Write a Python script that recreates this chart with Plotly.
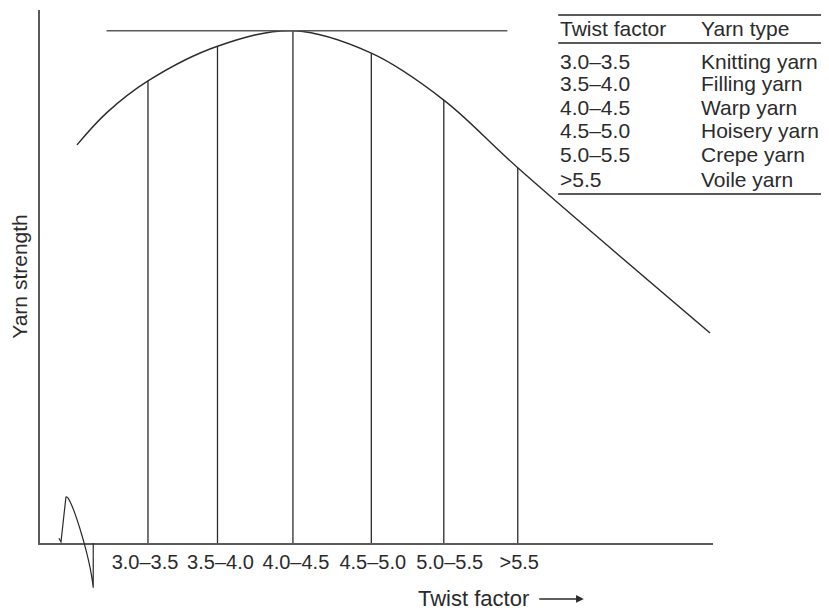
import plotly.graph_objects as go

# twist ranges marked on the x axis, with yarn strength read at each one
twist_ranges = ["3.0–3.5", "3.5–4.0", "4.0–4.5", "4.5–5.0", "5.0–5.5", ">5.5"]
range_pos = [3.25, 3.72, 4.23, 4.76, 5.25, 5.75]
label_pos = [3.23, 3.74, 4.25, 4.77, 5.29, 5.76]
range_strength = [86.7, 93.2, 96.1, 91.9, 83.1, 70.4]

# strength vs twist factor curve
curve_x = [2.77, 2.97, 3.25, 3.72, 4.23, 4.76, 5.25, 5.75, 7.05]
curve_y = [74.7, 80.7, 86.7, 93.2, 96.1, 91.9, 83.1, 70.4, 39.4]

# horizontal line at maximum strength
peak_x = [2.97, 5.68]

# axis break symbol near origin (hook, peak, two bezier controls, trough, back to axis)
break_x = [2.648, 2.662, 2.695, 2.722, 2.857, 2.880, 2.880]
break_y = [0.9, 0.2, 8.6, 9.6, -2.3, -8.4, 0.0]

# table of yarn types
yarn_types = ["Knitting yarn", "Filling yarn", "Warp yarn",
              "Hoisery yarn", "Crepe yarn", "Voile yarn"]

X_RANGE = [2.52, 7.07]
Y_RANGE = [0, 100]
FONT = "Liberation Sans, Arial, sans-serif"
INK = "#2b2b2b"
GREY = "#5a5a5a"


def to_paper(x, y):
    px = (x - X_RANGE[0]) / (X_RANGE[1] - X_RANGE[0])
    py = (y - Y_RANGE[0]) / (Y_RANGE[1] - Y_RANGE[0])
    return f"{px:.4f},{py:.4f}"


fig = go.Figure()

fig.add_trace(go.Scatter(
    x=curve_x, y=curve_y, mode="lines",
    line=dict(color=INK, width=1.4, shape="spline", smoothing=1.0),
    hoverinfo="skip",
))

# vertical drop lines from curve to axis
vx, vy = [], []
for p, s in zip(range_pos, range_strength):
    vx += [p, p, None]
    vy += [0, s, None]
fig.add_trace(go.Scatter(
    x=vx, y=vy, mode="lines",
    line=dict(color=INK, width=1.3), hoverinfo="skip",
))

fig.add_trace(go.Scatter(
    x=peak_x, y=[max(range_strength)] * 2, mode="lines",
    line=dict(color=GREY, width=1.6), hoverinfo="skip",
))

# break symbol drawn as a paper path so it can hang below the axis
pts = [to_paper(x, y) for x, y in zip(break_x, break_y)]
path = (f"M {pts[0]} L {pts[1]} L {pts[2]} "
        f"C {pts[3]} {pts[4]} {pts[5]} L {pts[6]}")
fig.add_shape(type="path", xref="paper", yref="paper", path=path,
              line=dict(color=INK, width=1.2))

# table: lines + text (paper coords)
tx0, tx1 = 0.770, 1.175
for yy in [0.9906, 0.938, 0.6548]:
    fig.add_shape(type="line", xref="paper", yref="paper",
                  x0=tx0, x1=tx1, y0=yy, y1=yy,
                  line=dict(color=GREY, width=2))

col1, col2 = 0.770, 0.979
fig.add_annotation(x=col1, y=0.9644, xref="paper", yref="paper",
                   text="Twist factor", showarrow=False,
                   xanchor="left", yanchor="middle")
fig.add_annotation(x=col2, y=0.9644, xref="paper", yref="paper",
                   text="Yarn type", showarrow=False,
                   xanchor="left", yanchor="middle")
row_y = [0.9043, 0.8612, 0.8180, 0.7730, 0.7280, 0.6829]
for ry, tf, yt in zip(row_y, twist_ranges, yarn_types):
    fig.add_annotation(x=col1, y=ry, xref="paper", yref="paper",
                       text=tf, showarrow=False,
                       xanchor="left", yanchor="middle")
    fig.add_annotation(x=col2, y=ry, xref="paper", yref="paper",
                       text=yt, showarrow=False,
                       xanchor="left", yanchor="middle")

# x axis title with arrow
fig.add_annotation(x=0.644, y=-0.105, xref="paper", yref="paper",
                   text="Twist factor", showarrow=False,
                   xanchor="center", yanchor="middle",
                   font=dict(size=22))
fig.add_annotation(x=0.808, y=-0.105, xref="paper", yref="paper",
                   ax=-46, ay=0, text="", showarrow=True,
                   arrowhead=2, arrowsize=1.1, arrowwidth=1.4,
                   arrowcolor=INK)

# the page body adds 8px around the plot, so margins are trimmed by 8
fig.update_layout(
    width=821, height=602,
    margin=dict(l=32, r=116, t=2, b=67),
    plot_bgcolor="white", paper_bgcolor="white",
    showlegend=False,
    font=dict(family=FONT, size=21, color=INK),
    xaxis=dict(
        range=X_RANGE, showgrid=False, zeroline=False,
        showline=True, linecolor=GREY, linewidth=1.6,
        tickvals=label_pos, ticktext=twist_ranges, ticks="",
        tickfont=dict(size=20, color=INK),
    ),
    yaxis=dict(
        range=Y_RANGE, showgrid=False, zeroline=False,
        showline=True, linecolor=GREY, linewidth=1.6,
        showticklabels=False, ticks="",
        title=dict(text="Yarn strength", standoff=12,
                   font=dict(size=21, color=INK)),
    ),
)

fig.write_html("out.html")
